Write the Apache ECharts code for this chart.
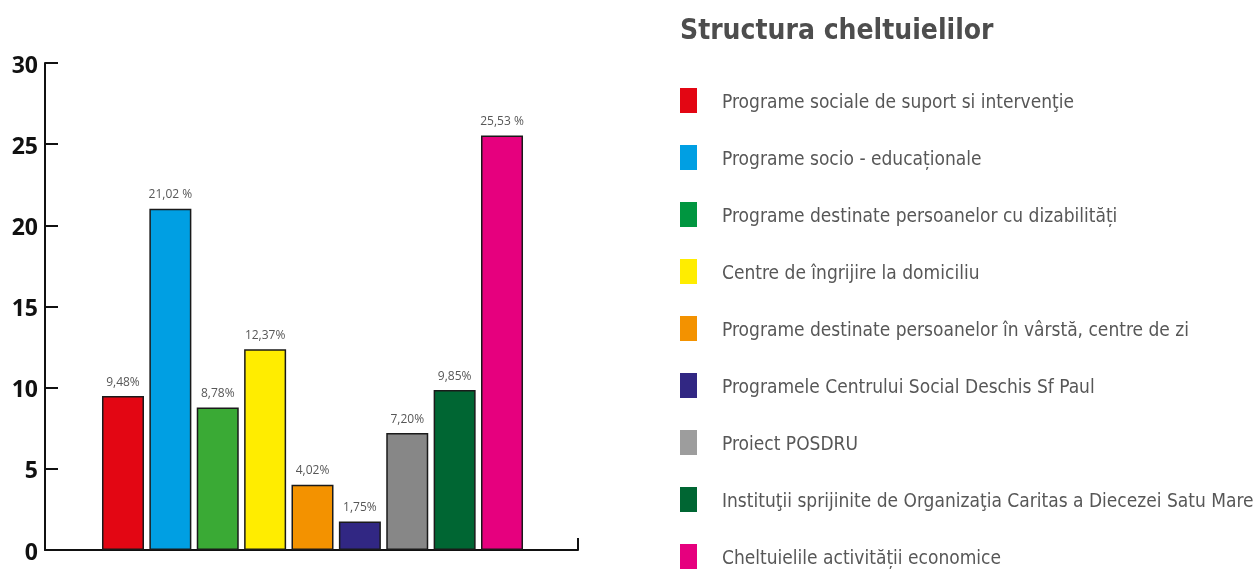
<!DOCTYPE html>
<html>
<head>
<meta charset="utf-8">
<script src="https://cdn.jsdelivr.net/npm/echarts@6/dist/echarts.min.js"></script>
<style>
  html, body { margin: 0; padding: 0; background: #fff; }
  #chart { width: 1259px; height: 572px; }
</style>
</head>
<body>
<div id="chart"></div>
<script>
// chart data
const categories = [
    'Programe sociale de suport si intervenţie',
    'Programe socio - educaționale',
    'Programe destinate persoanelor cu dizabilități',
    'Centre de îngrijire la domiciliu',
    'Programe destinate persoanelor în vârstă, centre de zi',
    'Programele Centrului Social Deschis Sf Paul',
    'Proiect POSDRU',
    'Instituţii sprijinite de Organizaţia Caritas a Diecezei Satu Mare',
    'Cheltuielile activității economice'
];
const values = [9.48, 21.02, 8.78, 12.37, 4.02, 1.75, 7.20, 9.85, 25.53];
const valueLabels = ['9,48%', '21,02 %', '8,78%', '12,37%', '4,02%', '1,75%', '7,20%', '9,85%', '25,53 %'];
const barColors = ['#e30613', '#009fe3', '#3aaa35', '#ffed00', '#f39200', '#312783', '#878787', '#006633', '#e6007e'];
const legendColors = ['#e30613', '#009fe3', '#009640', '#ffed00', '#f39200', '#312783', '#9d9d9d', '#006633', '#e6007e'];
const yTicks = [0, 5, 10, 15, 20, 25, 30];

const narrow = '"DejaVu Sans Condensed", "Open Sans", sans-serif';

const chart = echarts.init(document.getElementById('chart'));

const series = categories.map((name, i) => ({
    name,
    type: 'bar',
    xAxisIndex: 1,
    yAxisIndex: 1,
    barWidth: 42,
    barGap: '-100%',
    data: categories.map((_, j) => (j === i ? values[i] : null)),
    itemStyle: { color: barColors[i], borderColor: '#1a1a1a', borderWidth: 1.5 },
    label: {
        show: true,
        position: 'top',
        distance: 8,
        color: '#575757',
        fontSize: 12,
        fontFamily: '"Open Sans", sans-serif',
        formatter: () => valueLabels[i]
    },
    silent: true,
    animation: false
}));

const option = {
    backgroundColor: '#fff',
    animation: false,
    title: {
        text: 'Structura cheltuielilor',
        left: 680,
        top: 18,
        padding: 0,
        textStyle: { fontFamily: narrow, fontWeight: 'bold', fontSize: 28, color: '#4d4d4d' }
    },
    legend: {
        orient: 'vertical',
        left: 680,
        top: 88,
        padding: 0,
        icon: 'rect',
        itemWidth: 17,
        itemHeight: 25,
        itemGap: 32,
        selectedMode: false,
        itemStyle: { borderWidth: 0 },
        formatter: name => '{t|' + name + '}',
        textStyle: {
            padding: [0, 0, 0, 20],
            rich: {
                t: { fontFamily: narrow, fontSize: 19, lineHeight: 18, color: '#575757', padding: [6, 0, 0, 0] }
            }
        },
        data: categories.map((name, i) => ({ name, itemStyle: { color: legendColors[i], borderWidth: 0 } }))
    },
    grid: [
        { left: 45, right: 681, top: 63, bottom: 22 },
        { left: 99.3, width: 426.4, top: 63, bottom: 22 }
    ],
    xAxis: [
        {
            type: 'value', gridIndex: 0, min: 0, max: 1, interval: 1,
            axisLine: { show: true, lineStyle: { color: '#111', width: 2 } },
            axisTick: { show: true, inside: true, length: 12, lineStyle: { color: '#111', width: 2 } },
            axisLabel: { show: false },
            splitLine: { show: false }
        },
        {
            type: 'category', gridIndex: 1, data: categories,
            axisLine: { show: false }, axisTick: { show: false }, axisLabel: { show: false }
        }
    ],
    yAxis: [
        {
            type: 'value', gridIndex: 0, min: yTicks[0], max: yTicks[yTicks.length - 1], interval: 5,
            axisLine: { show: true, lineStyle: { color: '#111', width: 2 } },
            axisTick: { show: true, inside: true, length: 13, lineStyle: { color: '#111', width: 2 } },
            axisLabel: {
                margin: 7,
                formatter: '{v|{value}}',
                rich: {
                    v: { color: '#111', fontSize: 23, fontWeight: 'bold', fontFamily: '"Open Sans", sans-serif', padding: [6, 0, 0, 0] }
                }
            },
            splitLine: { show: false }
        },
        {
            type: 'value', gridIndex: 1, min: 0, max: 30, show: false, splitLine: { show: false }
        }
    ],
    series
};

chart.setOption(option);
</script>
</body>
</html>
